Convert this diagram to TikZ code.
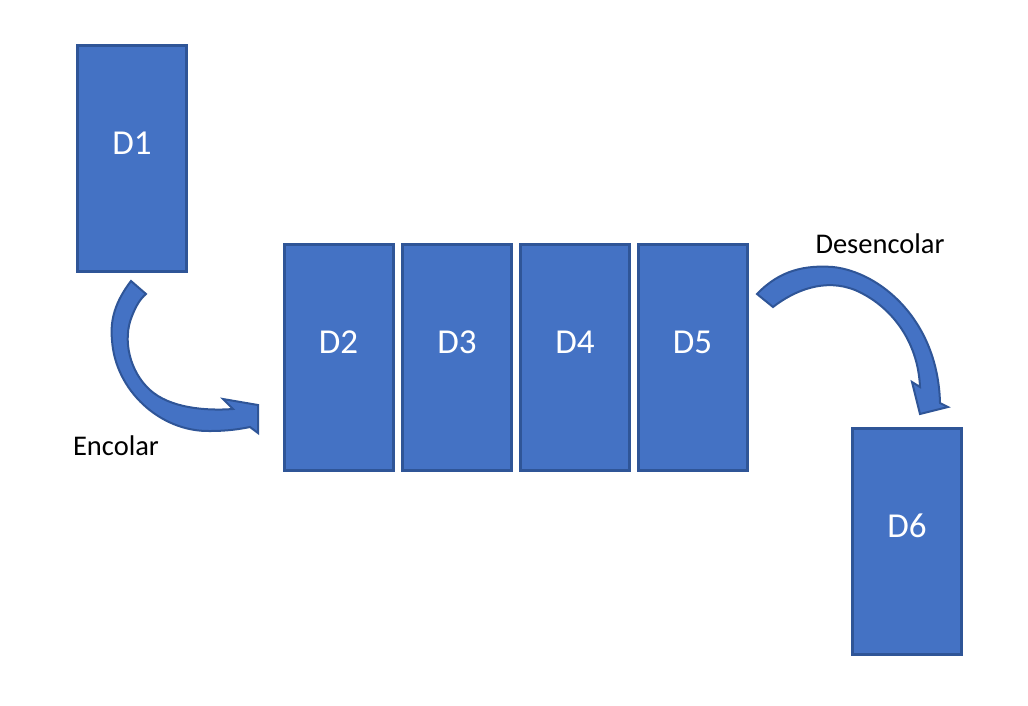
\documentclass[tikz,border=0pt]{standalone}
\usepackage{fontspec}
\setmainfont{Carlito}
\usepackage{xcolor}
\definecolor{boxfill}{HTML}{4472C4}
\definecolor{boxline}{HTML}{2F5597}
\tikzset{
  databox/.style={draw=boxline, fill=boxfill, line width=3pt, minimum width=109pt,
    minimum height=226pt, inner sep=0pt, text=white, font=\fontsize{35}{35}\selectfont,
    text depth=30pt},
  bigarrow/.style={draw=boxline, fill=boxfill, line width=2pt, line join=miter},
  oplabel/.style={font=\fontsize{28.5}{28.5}\selectfont, text=black}
}

\begin{document}
\begin{tikzpicture}[x=1pt, y=-1pt]
  % Page size
  \useasboundingbox (0,0) rectangle (1028,705);

  % The queue elements
  \node[databox] (d1) at (132,158.5) {D1};
  \node[databox] (d2) at (338.5,357.5) {D2};
  \node[databox] (d3) at (457,357.5) {D3};
  \node[databox] (d4) at (575,357.5) {D4};
  \node[databox] (d5) at (692.5,357.5) {D5};
  \node[databox] (d6) at (907,541) {D6};

  % Curved arrow into the queue
  \filldraw[bigarrow] (131,281) .. controls (115,302) and (110,320) .. (112,340)
    .. controls (115,390) and (160,432) .. (210,431)
    .. controls (228,431) and (240,429) .. (250,427)
    -- (258,433) -- (258,405) -- (223,399) -- (233,409)
    .. controls (205,411) and (170,408) .. (150,390)
    .. controls (130,372) and (122,340) .. (132,316)
    .. controls (136,306) and (140,299) .. (146,294) -- cycle;
  \node[oplabel] (enc) at (116,446) {Encolar};

  % Curved arrow out of the queue
  \filldraw[bigarrow] (757,294) .. controls (780,270) and (805,265) .. (833,267)
    .. controls (880,272) and (938,320) .. (940,403)
    -- (948,407) -- (920,414) -- (912,382) -- (920,387)
    .. controls (918,340) and (890,305) .. (855,290)
    .. controls (825,278) and (795,290) .. (773,307) -- cycle;
  \node[oplabel] (desenc) at (880,244) {Desencolar};
\end{tikzpicture}
\end{document}
